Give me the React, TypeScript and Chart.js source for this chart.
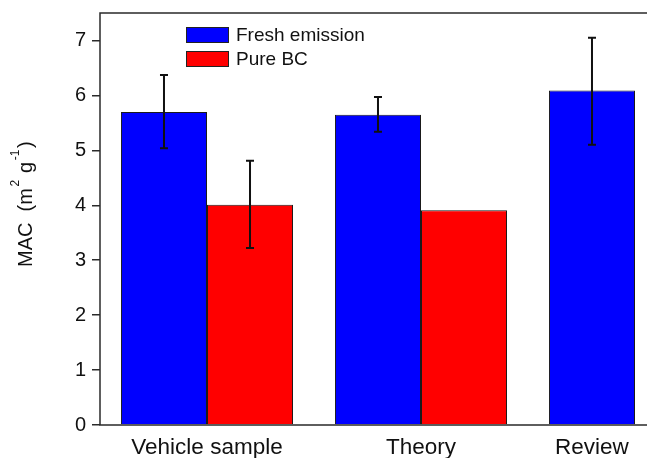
import React, { useEffect, useRef } from "react";
import { Chart, registerables } from "chart.js";

Chart.register(...registerables);

const categories = ["Vehicle sample", "Theory", "Review"];
const freshLabel = "Fresh emission";
const pureLabel = "Pure BC";
const freshValues = [5.7, 5.65, 6.09];
const freshErrLow = [5.04, 5.34, 5.1];
const freshErrHigh = [6.37, 5.97, 7.05];
const pureValues: (number | null)[] = [4.01, 3.91, null];
const pureErrLow: (number | null)[] = [3.22, null, null];
const pureErrHigh: (number | null)[] = [4.81, null, null];
const yTickValues = [0, 1, 2, 3, 4, 5, 6, 7];

const FONT = "'Liberation Sans', Arial, sans-serif";
const AXIS_COLOR = "#2a2a2a";

const errLows = [freshErrLow, pureErrLow];
const errHighs = [freshErrHigh, pureErrHigh];

const framePlugin = {
  id: "frame",
  afterDraw(chart: any) {
    const { ctx, chartArea } = chart;
    const { left, right, top, bottom } = chartArea;
    ctx.save();
    ctx.strokeStyle = AXIS_COLOR;
    ctx.lineWidth = 1.5;
    ctx.beginPath();
    ctx.moveTo(left, top);
    ctx.lineTo(right, top);
    ctx.lineTo(right, bottom);
    ctx.lineTo(left, bottom);
    ctx.closePath();
    ctx.stroke();
    ctx.restore();
  },
};

const errorBarPlugin = {
  id: "errorBars",
  afterDatasetsDraw(chart: any) {
    const { ctx } = chart;
    const yScale = chart.scales.y;
    ctx.save();
    ctx.strokeStyle = "#111";
    ctx.lineWidth = 2;
    chart.data.datasets.forEach((_ds: any, di: number) => {
      const meta = chart.getDatasetMeta(di);
      meta.data.forEach((bar: any, i: number) => {
        const lo = errLows[di][i];
        const hi = errHighs[di][i];
        if (lo == null || hi == null) return;
        const x = bar.x;
        const yLo = yScale.getPixelForValue(lo);
        const yHi = yScale.getPixelForValue(hi);
        const cap = 4;
        ctx.beginPath();
        ctx.moveTo(x, yLo);
        ctx.lineTo(x, yHi);
        ctx.moveTo(x - cap, yLo);
        ctx.lineTo(x + cap, yLo);
        ctx.moveTo(x - cap, yHi);
        ctx.lineTo(x + cap, yHi);
        ctx.stroke();
      });
    });
    ctx.restore();
  },
};

// x labels: centred on the group, or on the single bar when a group has one bar
const xLabelPlugin = {
  id: "xLabels",
  afterDraw(chart: any) {
    const { ctx, chartArea } = chart;
    const xScale = chart.scales.x;
    const fresh = chart.getDatasetMeta(0).data;
    ctx.save();
    ctx.fillStyle = "#111";
    ctx.font = `22.5px ${FONT}`;
    ctx.textAlign = "center";
    ctx.textBaseline = "alphabetic";
    categories.forEach((c, i) => {
      const single = pureValues[i] == null;
      const x = single ? fresh[i].x : xScale.getPixelForValue(i);
      ctx.fillText(c, x, chartArea.bottom + 29);
    });
    ctx.restore();
  },
};

const legendPlugin = {
  id: "customLegend",
  afterDraw(chart: any) {
    const { ctx } = chart;
    const x0 = 186;
    const y0 = 27;
    const boxW = 43;
    const boxH = 16;
    const rowGap = 24;
    ctx.save();
    chart.data.datasets.forEach((ds: any, i: number) => {
      const y = y0 + i * rowGap;
      ctx.fillStyle = ds.backgroundColor;
      ctx.fillRect(x0, y, boxW, boxH);
      ctx.strokeStyle = "#222";
      ctx.lineWidth = 1;
      ctx.strokeRect(x0 + 0.5, y + 0.5, boxW - 1, boxH - 1);
      ctx.fillStyle = "#111";
      ctx.font = `19px ${FONT}`;
      ctx.textBaseline = "middle";
      ctx.textAlign = "left";
      ctx.fillText(ds.label, x0 + boxW + 7, y + boxH / 2 + 1);
    });
    ctx.restore();
  },
};

const yTitlePlugin = {
  id: "yTitle",
  afterDraw(chart: any) {
    const { ctx } = chart;
    const pieces: { t: string; sup: boolean }[] = [
      { t: "MAC  (m", sup: false },
      { t: "2", sup: true },
      { t: " g", sup: false },
      { t: "-1", sup: true },
      { t: ")", sup: false },
    ];
    const mainFont = `20px ${FONT}`;
    const supFont = `12px ${FONT}`;
    ctx.save();
    ctx.translate(32, 267);
    ctx.rotate(-Math.PI / 2);
    ctx.fillStyle = "#111";
    ctx.textBaseline = "alphabetic";
    ctx.textAlign = "left";
    let x = 0;
    pieces.forEach((p) => {
      ctx.font = p.sup ? supFont : mainFont;
      if (p.sup) x += 1.5;
      ctx.fillText(p.t, x, p.sup ? -13 : 0);
      x += ctx.measureText(p.t).width;
      if (p.sup) x += 1.5;
    });
    ctx.restore();
  },
};

export default function App() {
  const canvasRef = useRef<HTMLCanvasElement | null>(null);

  useEffect(() => {
    if (!canvasRef.current) return;
    const chart = new Chart(canvasRef.current, {
      type: "bar",
      data: {
        labels: categories,
        datasets: [
          {
            label: freshLabel,
            data: freshValues,
            backgroundColor: "#0000ff",
            borderColor: "#1a1a1a",
            borderWidth: 1,
          },
          {
            label: pureLabel,
            data: pureValues,
            backgroundColor: "#ff0000",
            borderColor: "#1a1a1a",
            borderWidth: 1,
          },
        ],
      },
      options: {
        responsive: false,
        animation: false,
        devicePixelRatio: 1,
        layout: { padding: { top: 13, right: 0, left: 0, bottom: 0 } },
        datasets: {
          bar: { categoryPercentage: 0.804, barPercentage: 1.0 },
        },
        plugins: {
          legend: { display: false },
          tooltip: { enabled: false },
          title: { display: false },
        },
        scales: {
          x: {
            type: "category",
            offset: true,
            grid: { display: false, drawTicks: false },
            border: { display: false },
            ticks: { display: false },
            afterFit: (scale: any) => {
              scale.height = 33;
              scale.paddingLeft = 0;
              scale.paddingRight = 0;
            },
          },
          y: {
            min: 0,
            max: 7.5,
            afterBuildTicks: (scale: any) => {
              scale.ticks = yTickValues.map((v) => ({ value: v }));
            },
            grid: {
              drawOnChartArea: false,
              drawTicks: true,
              tickLength: 8,
              tickColor: AXIS_COLOR,
              lineWidth: 1.5,
            },
            border: { display: false },
            ticks: {
              color: "#111",
              font: { family: FONT, size: 20 },
              padding: 6,
              callback: (v: any) => String(v),
            },
            afterFit: (scale: any) => {
              scale.width = 100;
              scale.paddingTop = 0;
              scale.paddingBottom = 0;
            },
          },
        },
      },
      plugins: [framePlugin, errorBarPlugin, xLabelPlugin, legendPlugin, yTitlePlugin],
    });
    return () => chart.destroy();
  }, []);

  return (
    <div
      style={{
        position: "fixed",
        left: 0,
        top: 0,
        width: 647,
        height: 458,
        overflow: "hidden",
        background: "#fff",
      }}
    >
      <canvas
        ref={canvasRef}
        width={742}
        height={458}
        style={{ display: "block", width: 742, height: 458 }}
      />
    </div>
  );
}
